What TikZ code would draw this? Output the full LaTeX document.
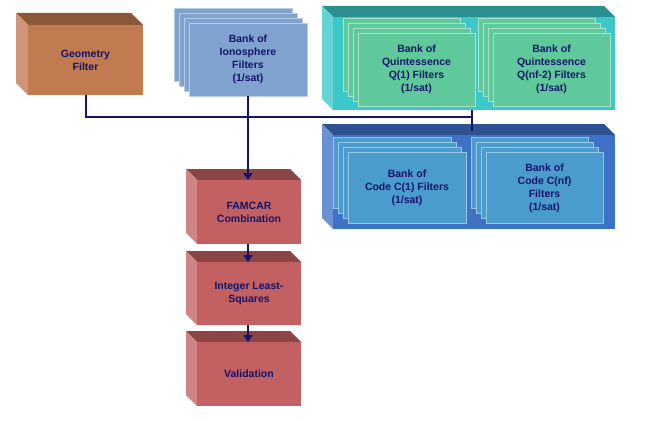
\documentclass[tikz,border=0pt]{standalone}
\usepackage{fontspec}
\setmainfont{Liberation Sans}
\usetikzlibrary{arrows.meta}
\definecolor{navy}{HTML}{14146A}
\definecolor{geoC}{HTML}{C27A50}
\definecolor{redC}{HTML}{C26062}
\definecolor{ionC}{HTML}{7FA3CE}
\definecolor{tealC}{HTML}{3CC8C8}
\definecolor{qC}{HTML}{5FC99C}
\definecolor{blueC}{HTML}{3E72C6}
\definecolor{cC}{HTML}{4A9BCE}
\newcommand\cubeF[6]{%
 \fill[#6!72!black] (#1,#2) -- (#1-#5,#2-#5) -- (#3-#5,#2-#5) -- (#3,#2) -- cycle;
 \fill[#6!78!white] (#1,#2) -- (#1-#5,#2-#5) -- (#1-#5,#4-#5) -- (#1,#4) -- cycle;
 \fill[#6] (#1,#2) rectangle (#3,#4);}
\newcommand\stackF[5]{%
 \foreach \i in {3,2,1}{\filldraw[fill=#5, draw=#5!55!white, line width=0.8pt] (#1-5*\i,#2-5*\i) rectangle (#3-5*\i,#4-5*\i);}
 \filldraw[fill=#5, draw=#5!55!white, line width=0.8pt] (#1,#2) rectangle (#3,#4);}
\tikzset{txt/.style={text=navy, font=\bfseries\fontsize{10.5}{13}\selectfont, align=center},
 bus/.style={navy, line width=2.6pt},
 arr/.style={bus, -{Triangle[length=7pt,width=9pt]}}}
\begin{document}
\begin{tikzpicture}[x=1pt,y=-1pt]
\useasboundingbox (0,0) rectangle (650,420);
% geometry
\cubeF{28}{25}{143}{95}{12}{geoC}
\node[txt] (geo) at (85.5,60) {Geometry\\Filter};
% ionosphere
\stackF{189}{23}{307}{96}{ionC}
\node[txt] (ion) at (248,59.5) {Bank of\\Ionosphere\\Filters\\(1/sat)};
% teal container
\cubeF{333}{17}{615}{110}{11}{tealC}
\stackF{358}{33}{475}{106}{qC}
\node[txt] (q1) at (416.5,69.5) {Bank of\\Quintessence\\Q(1) Filters\\(1/sat)};
\stackF{493}{33}{610}{106}{qC}
\node[txt] (qn) at (551.5,69.5) {Bank of\\Quintessence\\Q(nf-2) Filters\\(1/sat)};
% blue container
\cubeF{333}{135}{615}{229}{11}{blueC}
\stackF{348}{152}{466}{223}{cC}
\node[txt] (c1) at (407,188) {Bank of\\Code C(1) Filters\\(1/sat)};
\stackF{486}{152}{603}{223}{cC}
\node[txt] (cn) at (544.5,188) {Bank of\\Code C(nf)\\Filters\\(1/sat)};
% red boxes
\cubeF{197}{180}{301}{244}{11}{redC}
\node[txt] (fam) at (249,212) {FAMCAR\\Combination};
\cubeF{197}{262}{301}{325}{11}{redC}
\node[txt] (ils) at (249,293.5) {Integer Least-\\Squares};
\cubeF{197}{342}{301}{406}{11}{redC}
\node[txt] (val) at (249,374) {Validation};
% connectors
\coordinate (g1) at (86,95);
\coordinate (busE) at (472,117);
\coordinate (ion1) at (248,96);
\coordinate (famT) at (248,180);
\coordinate (famB) at (248,244);
\coordinate (ilsT) at (248,262);
\coordinate (ilsB) at (248,325);
\coordinate (valT) at (248,342);
\coordinate (t1) at (472,110);
\coordinate (t2) at (472,131);
\draw[bus] (g1) |- (busE);
\draw[bus] (t1) -- (t2);
\draw[arr] (ion1) -- (famT);
\draw[arr] (famB) -- (ilsT);
\draw[arr] (ilsB) -- (valT);
\end{tikzpicture}
\end{document}
